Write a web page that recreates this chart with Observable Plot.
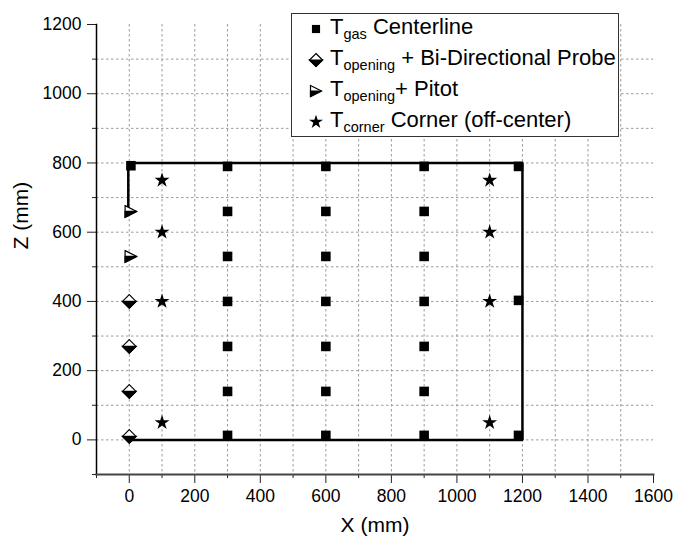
<!DOCTYPE html>
<html>
<head>
<meta charset="utf-8">
<script src="https://cdn.jsdelivr.net/npm/d3@7"></script>
<script src="https://cdn.jsdelivr.net/npm/@observablehq/plot@0.6"></script>
<style>
  body { margin: 0; background: #fff; font-family: "Liberation Sans", Arial, sans-serif; }
  #wrap { position: relative; width: 675px; height: 542px; overflow: hidden; }
  #legend { position: absolute; left: 291px; top: 13px; width: 328px; height: 124px;
            border: 1px solid #333; background: #fff; box-sizing: border-box; }
  .row { position: absolute; left: 38px; height: 30px; line-height: 30px; font-size: 22px;
         color: #000; white-space: nowrap; }
  .row sub { font-size: 14.5px; vertical-align: -5px; line-height: 0; }
  .icon { position: absolute; width: 18px; height: 18px; overflow: visible; }
</style>
</head>
<body>
<div id="wrap"><div id="chart"></div><div id="legend"></div></div>
<script>
// ---- data ----
const xTicks = [0, 200, 400, 600, 800, 1000, 1200, 1400, 1600];
const xMinor = [-100, 100, 300, 500, 700, 900, 1100, 1300, 1500];
const zTicks = [0, 200, 400, 600, 800, 1000, 1200];
const zMinor = [-100, 100, 300, 500, 700, 900, 1100];
const xGrid = [0, 100, 200, 300, 400, 500, 600, 700, 800, 900, 1000, 1100, 1200, 1300, 1400, 1500];
const zGrid = [0, 100, 200, 300, 400, 500, 600, 700, 800, 900, 1000, 1100];

// T_gas centerline (squares)
const gasX = [5,
  300, 300, 300, 300, 300, 300, 300,
  600, 600, 600, 600, 600, 600, 600,
  900, 900, 900, 900, 900, 900, 900,
  1188, 1188, 1188];
const gasZ = [792,
  790, 660, 530, 400, 270, 140, 13,
  790, 660, 530, 400, 270, 140, 13,
  790, 660, 530, 400, 270, 140, 13,
  790, 403, 13];

// T_opening + bi-directional probe (half-filled diamonds)
const probeX = [0, 0, 0, 0];
const probeZ = [400, 270, 140, 10];

// T_opening + pitot (half-filled right triangles)
const pitotX = [5, 5];
const pitotZ = [660, 530];

// T_corner (stars)
const cornerX = [100, 100, 100, 100, 1100, 1100, 1100, 1100];
const cornerZ = [750, 600, 400, 50, 750, 600, 400, 50];

// enclosure outline
const enclosureX = [-3, -3, 1200, 1200, 0];
const enclosureZ = [650, 800, 800, 0, 0];

const legendSubs = ["gas", "opening", "opening", "corner"];
const legendRests = [" Centerline", " + Bi-Directional Probe", "+ Pitot", " Corner (off-center)"];

// ---- custom symbols ----
const rad = s => Math.sqrt(s / Math.PI);
const diamondFull = { draw(c, s) { const r = rad(s); c.moveTo(0, -r); c.lineTo(r, 0); c.lineTo(0, r); c.lineTo(-r, 0); c.closePath(); } };
const diamondLow  = { draw(c, s) { const r = rad(s); c.moveTo(-r, 0); c.lineTo(r, 0); c.lineTo(0, r); c.closePath(); } };
const triFull = { draw(c, s) { const r = rad(s); c.moveTo(-r, -r); c.lineTo(r, 0); c.lineTo(-r, r); c.closePath(); } };
const triLow  = { draw(c, s) { const r = rad(s); c.moveTo(-r, 0); c.lineTo(r, 0); c.lineTo(-r, r); c.closePath(); } };

const pts = (xs, zs) => xs.map((x, i) => ({x, z: zs[i]}));
const gas = pts(gasX, gasZ), probe = pts(probeX, probeZ), pitot = pts(pitotX, pitotZ),
      corner = pts(cornerX, cornerZ), enclosure = pts(enclosureX, enclosureZ);

const fontFam = '"Liberation Sans", Arial, sans-serif';
const chart = Plot.plot({
  width: 675, height: 542,
  marginLeft: 96, marginRight: 22, marginTop: 24, marginBottom: 68,
  x: {domain: [-100, 1600]},
  y: {domain: [-100, 1200]},
  style: {fontFamily: fontFam, fontSize: "17.5px", color: "#000", background: "#fff", overflow: "visible"},
  marks: [
    Plot.gridX(xGrid, {stroke: "#9a9a9a", strokeOpacity: 1, strokeDasharray: "2.5,2.5"}),
    Plot.gridY(zGrid, {stroke: "#9a9a9a", strokeOpacity: 1, strokeDasharray: "2.5,2.5"}),
    Plot.axisX(xTicks, {tickSize: 9, tickPadding: 6, label: null, fontSize: 17.5, stroke: "#222", tickFormat: d => String(d)}),
    Plot.axisX(xMinor, {tickSize: 4, text: null, label: null, stroke: "#222"}),
    Plot.axisY(zTicks, {tickSize: 9, tickPadding: 6, label: null, fontSize: 17.5, stroke: "#222", tickFormat: d => String(d)}),
    Plot.axisY(zMinor, {tickSize: 4, text: null, label: null, stroke: "#222"}),
    Plot.frame({anchor: "left", stroke: "#000", strokeWidth: 1.5}),
    Plot.frame({anchor: "bottom", stroke: "#444", strokeWidth: 2}),
    Plot.text(["X (mm)"], {frameAnchor: "bottom", dy: 57, fontSize: 21, fill: "#000"}),
    Plot.text(["Z (mm)"], {frameAnchor: "left", dx: -75, rotate: -90, fontSize: 21, fill: "#000"}),
    Plot.line(enclosure, {x: "x", y: "z", stroke: "#000", strokeWidth: 2.5, strokeLinejoin: "miter"}),
    Plot.dot(gas, {x: "x", y: "z", symbol: "square", r: 5.4, fill: "#000", stroke: "none"}),
    Plot.dot(probe, {x: "x", y: "z", symbol: diamondFull, r: 6.8, fill: "#fff", stroke: "#000", strokeWidth: 1.2}),
    Plot.dot(probe, {x: "x", y: "z", symbol: diamondLow, r: 6.8, fill: "#000", stroke: "#000", strokeWidth: 1.2}),
    Plot.dot(pitot, {x: "x", y: "z", symbol: triFull, r: 5.8, fill: "#fff", stroke: "#000", strokeWidth: 1.2}),
    Plot.dot(pitot, {x: "x", y: "z", symbol: triLow, r: 5.8, fill: "#000", stroke: "#000", strokeWidth: 1.2}),
    Plot.dot(corner, {x: "x", y: "z", symbol: "star", r: 4.7, fill: "#000", stroke: "none"})
  ]
});
document.getElementById("chart").appendChild(chart);

// ---- legend ----
const legend = document.getElementById("legend");
const rowCenters = [15, 46, 77, 108];
const iconPaths = [
  [{sym: d3.symbolSquare, size: Math.PI * 4.6 * 4.6, fill: "#000"}],
  [{sym: diamondFull, size: Math.PI * 6.5 * 6.5, fill: "#fff"}, {sym: diamondLow, size: Math.PI * 6.5 * 6.5, fill: "#000"}],
  [{sym: triFull, size: Math.PI * 5.5 * 5.5, fill: "#fff"}, {sym: triLow, size: Math.PI * 5.5 * 5.5, fill: "#000"}],
  [{sym: d3.symbolStar, size: Math.PI * 4.4 * 4.4, fill: "#000"}]
];
legendSubs.forEach((sub, i) => {
  const row = document.createElement("div");
  row.className = "row";
  row.style.top = (rowCenters[i] - 17) + "px";
  row.innerHTML = "T<sub>" + sub + "</sub>" + legendRests[i];
  legend.appendChild(row);
  const svg = d3.create("svg").attr("class", "icon").attr("viewBox", "-9 -9 18 18")
    .style("left", (24 - 9) + "px").style("top", (rowCenters[i] - 9) + "px");
  iconPaths[i].forEach(p => {
    svg.append("path").attr("d", d3.symbol(p.sym, p.size)()).attr("fill", p.fill)
      .attr("stroke", i === 0 || i === 3 ? "none" : "#000").attr("stroke-width", 1.2);
  });
  legend.appendChild(svg.node());
});
</script>
</body>
</html>
